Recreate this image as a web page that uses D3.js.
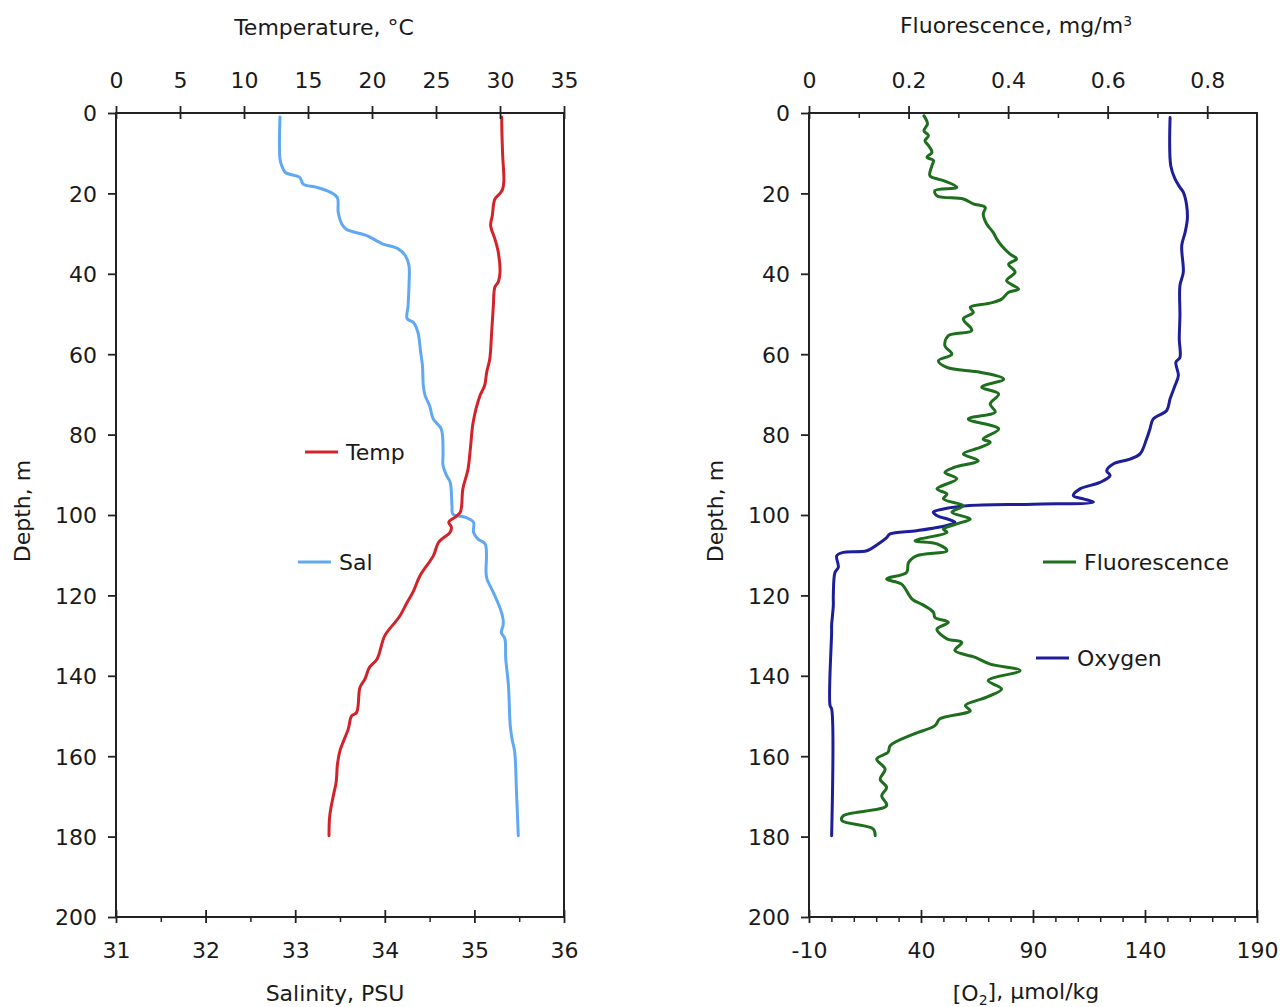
<!DOCTYPE html>
<html>
<head>
<meta charset="utf-8">
<script src="https://cdn.jsdelivr.net/npm/d3@7"></script>
<style>
  body { margin: 0; background: #fff; }
  svg { display: block; }
  text { font-family: "DejaVu Sans", Verdana, sans-serif; fill: #1a1a1a; }
</style>
</head>
<body>
<svg id="chart" width="1281" height="1007"></svg>
<script>
// ---------- tick labels ----------
const depthTicks = [0, 20, 40, 60, 80, 100, 120, 140, 160, 180, 200];
const tempTicks = [0, 5, 10, 15, 20, 25, 30, 35];
const salTicks = [31, 32, 33, 34, 35, 36];
const salMinor = [31.5, 32.5, 33.5, 34.5, 35.5];
const fluorTicks = [0, 0.2, 0.4, 0.6, 0.8];
const fluorMinor = [0.1, 0.3, 0.5, 0.7];
const o2Ticks = [-10, 40, 90, 140, 190];
const o2Minor = [0, 10, 20, 30, 50, 60, 70, 80, 100, 110, 120, 130, 150, 160, 170, 180];

// ---------- series: [depth (m), value] ----------
const tempData = [[1,30.13],[5,30.15],[10,30.2],[17,30.3],[19,30.2],[20,30.0],[21.4,29.6],[25.5,29.4],[28,29.27],[31.3,29.6],[34.7,29.87],[39.6,30.0],[42,29.87],[43.3,29.6],[47.9,29.48],[54.5,29.35],[61.2,29.2],[64.5,28.96],[67.8,28.8],[70.3,28.44],[77,27.9],[83,27.7],[88.6,27.5],[93.5,27.1],[99.3,26.9],[100.5,26.5],[101.8,26.0],[103,26.2],[104.3,26.1],[106.8,25.2],[110.1,24.8],[115.1,23.75],[119.2,23.2],[122,22.7],[125,22.2],[126.7,21.8],[130,21.0],[135.8,20.4],[137.9,19.8],[140.8,19.45],[142.9,19.06],[149.1,18.8],[150,18.4],[153.2,18.15],[158.6,17.5],[162,17.3],[166.5,17.2],[169.8,16.98],[174.8,16.7],[179.8,16.64]];

const salData = [[1,32.83],[11.4,32.83],[13.1,32.85],[14.8,32.89],[16,33.05],[17.7,33.09],[18.5,33.24],[19.7,33.39],[21,33.47],[24.7,33.48],[27.6,33.52],[28.9,33.57],[30.5,33.8],[31.8,33.91],[32.6,33.98],[33.8,34.15],[35.5,34.23],[38,34.27],[42.9,34.27],[47.9,34.26],[51.2,34.25],[52.1,34.32],[54.6,34.37],[59.5,34.4],[62.8,34.42],[67.8,34.43],[70.3,34.45],[72.8,34.5],[76.1,34.54],[78.6,34.63],[84.4,34.65],[87.7,34.65],[90.2,34.69],[91.9,34.73],[97.7,34.75],[99.8,34.76],[100.6,34.9],[101.8,34.99],[104.3,34.99],[106,35.04],[107.2,35.12],[114.3,35.13],[115.9,35.14],[119.2,35.21],[123.4,35.29],[125.9,35.32],[127.5,35.32],[129.2,35.3],[130.8,35.34],[135.8,35.35],[142.4,35.38],[152.4,35.4],[155.7,35.42],[159,35.45],[169,35.47],[179.8,35.49]];

const fluorData = [[0.7,0.231],[2.7,0.238],[4.4,0.231],[5.6,0.240],[6.9,0.233],[8.1,0.240],[9.8,0.247],[11,0.237],[11.8,0.250],[13.1,0.247],[15.6,0.243],[16.8,0.270],[18.5,0.297],[19.3,0.253],[20.6,0.257],[21.4,0.310],[22.6,0.330],[23.5,0.354],[25.1,0.350],[27.6,0.357],[29.7,0.370],[31.3,0.377],[33,0.387],[35.1,0.404],[36.3,0.417],[37.6,0.401],[39.6,0.414],[41.7,0.397],[43.8,0.421],[44.6,0.401],[46.3,0.387],[47.3,0.364],[48.3,0.324],[49.6,0.330],[51.2,0.310],[54.1,0.327],[55.4,0.280],[57.9,0.273],[60,0.287],[61.6,0.260],[63.3,0.277],[64.5,0.344],[66.2,0.391],[68.2,0.347],[69.9,0.381],[72.4,0.364],[74.4,0.374],[76.1,0.320],[78.6,0.381],[81.1,0.350],[81.9,0.364],[83.2,0.344],[84.8,0.310],[86.5,0.340],[88.1,0.293],[89.4,0.273],[91,0.297],[93.5,0.257],[94.8,0.277],[96,0.270],[97.7,0.310],[99.3,0.287],[101,0.324],[102.2,0.297],[103.5,0.270],[104.3,0.277],[106.4,0.213],[107.2,0.257],[108.9,0.277],[110.1,0.217],[111.8,0.200],[114.3,0.196],[115.9,0.156],[117.2,0.186],[120.9,0.207],[122.3,0.228],[124.2,0.250],[125.5,0.253],[126.7,0.280],[128.4,0.257],[130.8,0.277],[131.7,0.307],[133.7,0.293],[135.4,0.334],[137.1,0.364],[138.7,0.424],[141.2,0.360],[143.3,0.387],[145.3,0.357],[147.4,0.314],[148.7,0.324],[150.7,0.263],[152.4,0.253],[154.5,0.210],[157.4,0.163],[159,0.159],[160.7,0.136],[163.2,0.153],[165.7,0.143],[167.8,0.156],[169.8,0.146],[172.3,0.156],[174.8,0.069],[176,0.066],[178.1,0.129],[179.8,0.133]];

const oxyData = [[1.1,151.2],[13.1,151.5],[16.4,153.4],[18.5,155.6],[19.7,157.1],[23,158.6],[26.4,158.9],[29.7,157.9],[33,156.4],[39.6,157.1],[42.9,155.6],[50.4,155.6],[56.2,155.3],[60.8,155.6],[62,153.8],[65.3,154.9],[67.8,153.4],[71.1,151.2],[74,149.7],[76.1,143.7],[78.6,142.2],[81.1,140.7],[84.8,137.8],[86.1,133.3],[87.3,125.8],[89,122.9],[90.2,124.4],[91.9,119.9],[93.5,111],[95.2,108],[96,112.5],[96.8,117],[97.3,90.1],[97.7,60.4],[98.5,50],[99.3,45.5],[100.1,47],[101.8,55.2],[102.6,51.5],[103.9,38.1],[104.7,26.2],[105.6,24.7],[107.2,20.9],[108.9,15.8],[109.3,5.3],[110.1,2.4],[113,3.1],[114.3,1.6],[120.1,0.85],[122.5,0.85],[127.5,0.1],[129.2,0.1],[147.4,-0.6],[148.2,0.1],[179.8,0.1]];

// ---------- layout ----------
const svg = d3.select("#chart");
const yTop = 113, yBot = 917;
const y = d3.scaleLinear().domain([0, 200]).range([yTop, yBot]);

const L = { x0: 116, x1: 564 };
const R = { x0: 809, x1: 1257 };
const xTemp = d3.scaleLinear().domain([0, 35]).range([L.x0, L.x1]);
const xSal = d3.scaleLinear().domain([31, 36]).range([L.x0, L.x1]);
const xFluor = d3.scaleLinear().domain([0, 0.9]).range([R.x0, R.x1]);
const xO2 = d3.scaleLinear().domain([-10, 190]).range([R.x0, R.x1]);

const FS = 22;
const axisColor = "#222";
const plain = d => String(d);

function hAxis(scale, yPos, majors, minors, labelY, fmt) {
  const g = svg.append("g");
  const ax = (yPos === yTop ? d3.axisTop(scale) : d3.axisBottom(scale))
    .tickValues(majors).tickFormat(fmt).tickSizeOuter(0);
  g.attr("transform", `translate(0,${yPos})`).call(ax);
  g.select(".domain").remove();
  g.selectAll(".tick line").attr("y1", -7).attr("y2", 6).attr("stroke", axisColor).attr("stroke-width", 1.8);
  g.selectAll(".tick text")
    .attr("y", labelY - yPos).attr("dy", "0.36em")
    .style("font-size", FS + "px").style("font-family", "DejaVu Sans, Verdana, sans-serif")
    .attr("fill", "#1a1a1a");
  if (minors) {
    const gm = svg.append("g").attr("transform", `translate(0,${yPos})`);
    const axm = (yPos === yTop ? d3.axisTop(scale) : d3.axisBottom(scale))
      .tickValues(minors).tickFormat("").tickSizeOuter(0);
    gm.call(axm);
    gm.select(".domain").remove();
    gm.selectAll(".tick line").attr("y1", 0).attr("y2", 5).attr("stroke", axisColor).attr("stroke-width", 1.5);
  }
}

function vAxis(xPos, labelRight) {
  const g = svg.append("g").attr("transform", `translate(${xPos},0)`);
  g.call(d3.axisLeft(y).tickValues(depthTicks).tickFormat(plain).tickSize(8).tickSizeOuter(0));
  g.select(".domain").remove();
  g.selectAll(".tick line").attr("stroke", axisColor).attr("stroke-width", 1.8);
  g.selectAll(".tick text")
    .attr("x", labelRight - xPos).attr("dy", "0.36em")
    .style("font-size", FS + "px").style("font-family", "DejaVu Sans, Verdana, sans-serif")
    .attr("fill", "#1a1a1a");
}

function box(P) {
  svg.append("rect")
    .attr("x", P.x0).attr("y", yTop)
    .attr("width", P.x1 - P.x0).attr("height", yBot - yTop)
    .attr("fill", "none").attr("stroke", axisColor).attr("stroke-width", 2);
}

function profile(data, xs, color) {
  const line = d3.line()
    .x(d => xs(d[1])).y(d => y(d[0]))
    .curve(d3.curveCatmullRom.alpha(0.5));
  svg.append("path").datum(data)
    .attr("d", line).attr("fill", "none")
    .attr("stroke", color).attr("stroke-width", 3)
    .attr("stroke-linejoin", "round").attr("stroke-linecap", "round");
}

function legend(xl, yl, color, label) {
  svg.append("line").attr("x1", xl).attr("x2", xl + 33).attr("y1", yl).attr("y2", yl)
    .attr("stroke", color).attr("stroke-width", 3);
  svg.append("text").attr("x", xl + 41).attr("y", yl).attr("dy", "0.36em")
    .style("font-size", FS + "px").text(label);
}

// ---------- left panel ----------
const cTemp = "#d2232a", cSal = "#60a9f2", cFl = "#1d6e1d", cO2 = "#1e1e98";

profile(salData, xSal, cSal);
profile(tempData, xTemp, cTemp);
box(L);
hAxis(xTemp, yTop, tempTicks, null, 80, plain);
hAxis(xSal, yBot, salTicks, salMinor, 950, plain);
vAxis(L.x0, 97);

svg.append("text").attr("x", 324).attr("y", 27).attr("dy", "0.36em")
  .attr("text-anchor", "middle").style("font-size", FS + "px").text("Temperature, °C");
svg.append("text").attr("x", 335).attr("y", 993).attr("dy", "0.36em")
  .attr("text-anchor", "middle").style("font-size", FS + "px").text("Salinity, PSU");
svg.append("text").attr("transform", "translate(22,511) rotate(-90)").attr("dy", "0.36em")
  .attr("text-anchor", "middle").style("font-size", FS + "px").text("Depth, m");

legend(305, 452, cTemp, "Temp");
legend(298, 562, cSal, "Sal");

// ---------- right panel ----------
profile(oxyData, xO2, cO2);
profile(fluorData, xFluor, cFl);
box(R);
hAxis(xFluor, yTop, fluorTicks, fluorMinor, 80, d => d === 0 ? "0" : d3.format(".1f")(d));
hAxis(xO2, yBot, o2Ticks, o2Minor, 950, plain);
vAxis(R.x0, 790);

const tF = svg.append("text").attr("x", 1016).attr("y", 25).attr("dy", "0.36em")
  .attr("text-anchor", "middle").style("font-size", FS + "px");
tF.append("tspan").text("Fluorescence, mg/m");
tF.append("tspan").attr("dy", "-0.5em").style("font-size", "14px").text("3");

const tO = svg.append("text").attr("x", 1026).attr("y", 993).attr("dy", "0.36em")
  .attr("text-anchor", "middle").style("font-size", FS + "px");
tO.append("tspan").text("[O");
tO.append("tspan").attr("dy", "0.3em").style("font-size", "14px").text("2");
tO.append("tspan").attr("dy", "-0.3em").text("], μmol/kg");

svg.append("text").attr("transform", "translate(715,511) rotate(-90)").attr("dy", "0.36em")
  .attr("text-anchor", "middle").style("font-size", FS + "px").text("Depth, m");

legend(1043, 562, cFl, "Fluorescence");
legend(1036, 658, cO2, "Oxygen");
</script>
</body>
</html>
